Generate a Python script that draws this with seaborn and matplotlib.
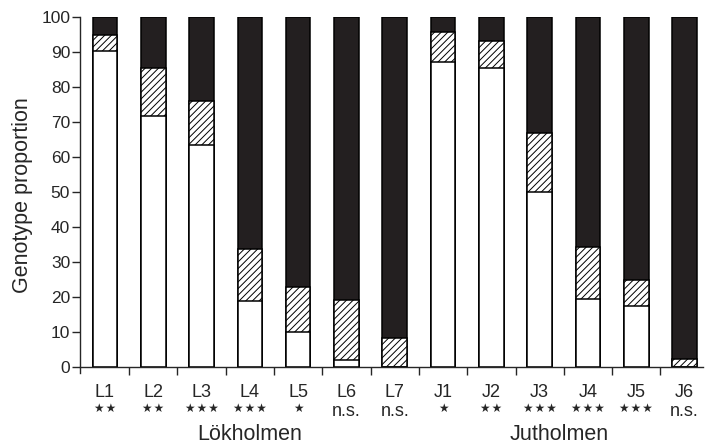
import numpy as np
import pandas as pd
import matplotlib
matplotlib.use("Agg")
import matplotlib.pyplot as plt
import seaborn as sns

# data (percent)
sites = ["L1", "L2", "L3", "L4", "L5", "L6", "L7",
         "J1", "J2", "J3", "J4", "J5", "J6"]
signif = ["**", "**", "***", "***", "*", "n.s.", "n.s.",
          "*", "**", "***", "***", "***", "n.s."]
white = [90.3, 71.8, 63.3, 18.8, 9.9, 2.0, 0.0,
         87.0, 85.3, 49.9, 19.3, 17.3, 0.0]
hatched = [4.4, 13.6, 12.8, 14.9, 12.9, 17.2, 8.4,
           8.6, 7.9, 16.9, 15.1, 7.6, 2.2]
total = [100] * len(sites)
groups = ["Lökholmen", "Jutholmen"]
group_pos = [3, 9.4]

df = pd.DataFrame({"site": sites, "white": white, "hatched": hatched, "total": total})
df["cum"] = df["white"] + df["hatched"]

sns.set_style("ticks")
plt.rcParams["font.family"] = ["Liberation Sans", "DejaVu Sans"]
plt.rcParams["hatch.linewidth"] = 0.7

fig = plt.figure(figsize=(7.07, 4.45), dpi=100)
# y=0 sits at 367 px, y=100 at 17 px; axis runs a little below zero
ax = fig.add_axes([0.113, 0.1627, 0.882, 0.7993])

bw = 0.51
sns.barplot(data=df, x="site", y="total", color="#231f20", edgecolor="black",
            linewidth=1.1, width=bw, ax=ax, saturation=1)
sns.barplot(data=df, x="site", y="cum", color="white", edgecolor="black",
            linewidth=1.1, width=bw, hatch="/////", ax=ax, saturation=1)
sns.barplot(data=df, x="site", y="white", color="white", edgecolor="black",
            linewidth=1.1, width=bw, ax=ax, saturation=1)

ax.set_ylim(-1.6, 100)
ax.set_xlim(-0.518, 12.39)
ax.set_yticks(np.arange(0, 101, 10))
ax.tick_params(axis="y", labelsize=12.5, length=6, width=1, direction="out", pad=1)

ax.set_xticks(range(len(sites)))
ax.set_xticklabels([])
ax.tick_params(axis="x", which="major", length=0)
ax.set_xticks(np.arange(0.5, len(sites) - 1, 1.0), minor=True)
ax.tick_params(axis="x", which="minor", length=6, width=1, direction="out")

ax.set_xlabel("")
ax.set_ylabel("Genotype proportion", fontsize=15.5, labelpad=6)

for sp in ["top", "right"]:
    ax.spines[sp].set_visible(False)
ax.spines["bottom"].set_position(("data", 0))
ax.spines["left"].set_linewidth(1)
ax.spines["bottom"].set_linewidth(1)

# labels below the axis, placed in data units (3.5 px per unit)
for i, (s, g) in enumerate(zip(sites, signif)):
    ax.text(i, -8.6, s, ha="center", va="baseline", fontsize=13)
    if g.startswith("*"):
        ax.text(i, -11.8, "\u200a".join("\u2605" * len(g)), ha="center", va="center",
                fontsize=8.5, family=["DejaVu Sans"])
    else:
        ax.text(i, -14.1, g, ha="center", va="baseline", fontsize=13)

for g, p in zip(groups, group_pos):
    ax.text(p, -20.9, g, ha="center", va="baseline", fontsize=15.5)

fig.savefig("out.png", dpi=100)
